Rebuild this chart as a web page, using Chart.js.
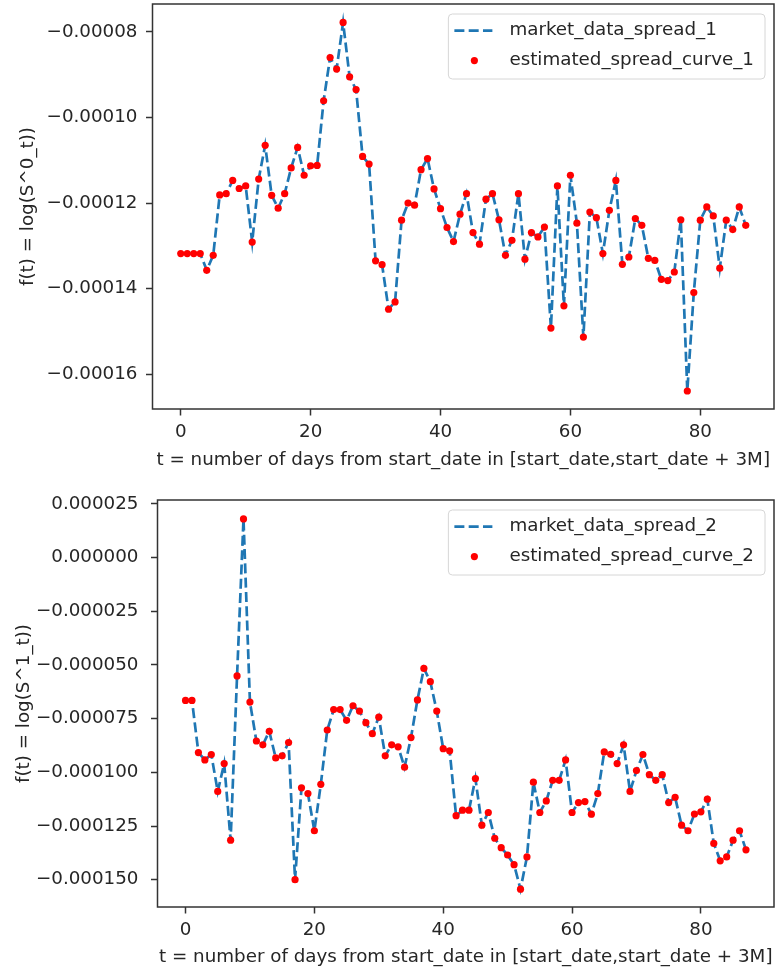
<!DOCTYPE html>
<html lang="en">
<head>
<meta charset="UTF-8">
<title>Spread curves</title>
<script src="https://cdn.jsdelivr.net/npm/chart.js"></script>
<style>
  body { margin: 0; background: #fff; }
  canvas { display: block; }
</style>
</head>
<body>
<canvas id="spread1" width="778" height="486"></canvas>
<canvas id="spread2" width="778" height="486"></canvas>
<script>
// days since start_date
const days = [0,1,2,3,4,5,6,7,8,9,10,11,12,13,14,15,16,17,18,19,20,21,22,23,24,25,26,27,28,29,
  30,31,32,33,34,35,36,37,38,39,40,41,42,43,44,45,46,47,48,49,50,51,52,53,54,55,56,57,58,59,
  60,61,62,63,64,65,66,67,68,69,70,71,72,73,74,75,76,77,78,79,80,81,82,83,84,85,86,87];

// f(t) = log(S^0_t)
const spread1 = [-131.8e-6,-131.8e-6,-131.8e-6,-131.8e-6,-135.7e-6,-132.2e-6,-118.1e-6,-117.8e-6,-114.7e-6,-116.6e-6,
  -116.0e-6,-129.1e-6,-114.4e-6,-106.5e-6,-118.2e-6,-121.2e-6,-117.8e-6,-111.8e-6,-107.0e-6,-113.5e-6,
  -111.3e-6,-111.2e-6,-96.1e-6,-86.0e-6,-88.7e-6,-77.8e-6,-90.5e-6,-93.5e-6,-109.1e-6,-110.9e-6,
  -133.5e-6,-134.4e-6,-144.8e-6,-143.1e-6,-124.0e-6,-120.0e-6,-120.5e-6,-112.2e-6,-109.6e-6,-116.7e-6,
  -121.3e-6,-125.7e-6,-129.0e-6,-122.6e-6,-117.8e-6,-126.9e-6,-129.6e-6,-119.1e-6,-117.8e-6,-123.9e-6,
  -132.2e-6,-128.7e-6,-117.8e-6,-133.1e-6,-126.9e-6,-127.9e-6,-125.6e-6,-149.2e-6,-116.0e-6,-144.0e-6,
  -113.5e-6,-124.7e-6,-151.3e-6,-122.1e-6,-123.4e-6,-131.8e-6,-121.7e-6,-114.7e-6,-134.3e-6,-132.6e-6,
  -123.6e-6,-125.2e-6,-132.9e-6,-133.4e-6,-137.8e-6,-138.1e-6,-136.1e-6,-123.9e-6,-163.9e-6,-140.9e-6,
  -124.0e-6,-120.9e-6,-123.0e-6,-135.2e-6,-124.0e-6,-126.2e-6,-120.9e-6,-125.2e-6];

// f(t) = log(S^1_t)
const spread2 = [-66.5e-6,-66.5e-6,-90.8e-6,-94.2e-6,-91.7e-6,-108.9e-6,-95.9e-6,-131.6e-6,-55.1e-6,18.0e-6,
  -67.3e-6,-85.4e-6,-87.2e-6,-80.9e-6,-93.3e-6,-92.3e-6,-86.1e-6,-150.0e-6,-107.2e-6,-109.9e-6,
  -127.2e-6,-105.6e-6,-80.3e-6,-70.8e-6,-70.8e-6,-75.8e-6,-69.0e-6,-71.5e-6,-76.9e-6,-82.0e-6,
  -74.3e-6,-92.3e-6,-87.2e-6,-88.1e-6,-97.6e-6,-83.8e-6,-66.3e-6,-51.6e-6,-57.8e-6,-71.5e-6,
  -89.0e-6,-90.0e-6,-120.2e-6,-117.6e-6,-117.6e-6,-102.9e-6,-124.6e-6,-118.7e-6,-130.7e-6,-135.1e-6,
  -138.5e-6,-143.0e-6,-154.4e-6,-139.4e-6,-104.6e-6,-118.7e-6,-113.3e-6,-103.7e-6,-103.7e-6,-94.2e-6,
  -118.7e-6,-114.1e-6,-113.6e-6,-119.5e-6,-109.9e-6,-90.5e-6,-91.6e-6,-95.9e-6,-87.2e-6,-108.9e-6,
  -99.2e-6,-91.7e-6,-101.1e-6,-103.7e-6,-101.1e-6,-114.1e-6,-111.6e-6,-124.6e-6,-127.2e-6,-119.4e-6,
  -118.4e-6,-112.5e-6,-133.1e-6,-141.2e-6,-139.4e-6,-131.6e-6,-127.2e-6,-136.1e-6];

const xTicks = [0, 20, 40, 60, 80];
const yTicks1 = [-0.00016, -0.00014, -0.00012, -0.00010, -0.00008];
const yTickLabels1 = ['\u22120.00016', '\u22120.00014', '\u22120.00012', '\u22120.00010', '\u22120.00008'];
const yTicks2 = [-0.000150, -0.000125, -0.000100, -0.000075, -0.000050, -0.000025, 0, 0.000025];
const yTickLabels2 = ['\u22120.000150', '\u22120.000125', '\u22120.000100', '\u22120.000075',
  '\u22120.000050', '\u22120.000025', '0.000000', '0.000025'];

const FONT_FAMILY = '"DejaVu Sans", sans-serif';
const FONT_SIZE = 18.3;
const TEXT = '#262626';
const AXIS = '#333';

// axes frame (matplotlib spines)
const frame = {
  id: 'frame',
  afterDatasetsDraw(chart) {
    const {ctx, chartArea: a} = chart;
    ctx.save();
    ctx.strokeStyle = AXIS;
    ctx.lineWidth = 1.5;
    ctx.strokeRect(a.left, a.top, a.right - a.left, a.bottom - a.top);
    ctx.restore();
  }
};

// legend box in the upper right of the axes
const legendBox = {
  id: 'legendBox',
  afterDraw(chart, args, opts) {
    const {ctx, chartArea: a} = chart;
    const sets = chart.data.datasets;
    ctx.save();
    ctx.font = FONT_SIZE + 'px ' + FONT_FAMILY;
    const textW = Math.max(...sets.map(d => ctx.measureText(d.label).width));
    const w = 61 + textW + 11, h = 65;
    const right = a.right - opts.gapRight;
    const left = right - w;
    const top = a.top + opts.gapTop;
    ctx.beginPath();
    ctx.roundRect(left, top, w, h, 4);
    ctx.fillStyle = 'rgba(255,255,255,0.8)';
    ctx.fill();
    ctx.strokeStyle = '#d6d6d6';
    ctx.lineWidth = 1;
    ctx.stroke();
    sets.forEach((ds, i) => {
      const y = top + 16.6 + i * 30;
      if (ds.showLine === false) {
        ctx.beginPath();
        ctx.arc(left + 26, y, ds.pointRadius, 0, Math.PI * 2);
        ctx.fillStyle = ds.pointBackgroundColor;
        ctx.fill();
      } else {
        ctx.beginPath();
        ctx.setLineDash(ds.borderDash);
        ctx.moveTo(left + 6, y);
        ctx.lineTo(left + 44, y);
        ctx.strokeStyle = ds.borderColor;
        ctx.lineWidth = ds.borderWidth;
        ctx.stroke();
        ctx.setLineDash([]);
      }
      ctx.fillStyle = TEXT;
      ctx.textBaseline = 'middle';
      ctx.fillText(ds.label, left + 61, y);
    });
    ctx.restore();
  }
};

function makeChart(id, values, names, cfg) {
  const pts = days.map((t, i) => ({x: t, y: values[i]}));
  const font = {family: FONT_FAMILY, size: FONT_SIZE};
  return new Chart(document.getElementById(id), {
    type: 'line',
    data: {
      datasets: [
        {
          label: names[0],
          data: pts,
          borderColor: '#1f77b4',
          borderWidth: 2.7,
          borderDash: [10, 4.3],
          pointRadius: 0,
          fill: false,
          tension: 0,
          order: 2
        },
        {
          label: names[1],
          data: pts,
          showLine: false,
          pointRadius: 3.6,
          pointBackgroundColor: '#ff0000',
          pointBorderWidth: 0,
          borderColor: '#ff0000',
          order: 1
        }
      ]
    },
    options: {
      responsive: false,
      animation: false,
      events: [],
      layout: {padding: {left: 0, top: cfg.padTop, right: cfg.padRight, bottom: 0}},
      plugins: {
        legend: {display: false},
        tooltip: {enabled: false},
        legendBox: {gapRight: 9, gapTop: 10}
      },
      scales: {
        x: {
          type: 'linear',
          min: -4.35,
          max: 91.35,
          afterBuildTicks: s => { s.ticks = xTicks.map(v => ({value: v})); },
          afterFit: s => { s.height = cfg.xHeight; s.paddingLeft = 0; s.paddingRight = 0; },
          border: {display: false},
          grid: {drawOnChartArea: false, drawTicks: true, tickLength: 6.5, tickWidth: 1.5, tickColor: AXIS},
          ticks: {font, color: TEXT, padding: 6, maxRotation: 0, callback: v => String(v)},
          title: {
            display: true,
            text: 't = number of days from start_date in [start_date,start_date + 3M]',
            font, color: TEXT,
            padding: {top: 0, bottom: cfg.xTitlePad}
          }
        },
        y: {
          min: cfg.yMin,
          max: cfg.yMax,
          afterBuildTicks: s => { s.ticks = cfg.yTicks.map(v => ({value: v})); },
          afterFit: s => { s.width = cfg.yWidth; s.paddingTop = 0; s.paddingBottom = 0; },
          border: {display: false},
          grid: {drawOnChartArea: false, drawTicks: true, tickLength: 6.5, tickWidth: 1.5, tickColor: AXIS},
          ticks: {font, color: TEXT, padding: cfg.yTickPad, callback: (v, i) => cfg.yLabels[i]},
          title: {
            display: true,
            text: cfg.yTitle,
            font, color: TEXT,
            padding: {top: cfg.yTitlePad, bottom: 0}
          }
        }
      }
    },
    plugins: [frame, legendBox]
  });
}

makeChart('spread1', spread1, ['market_data_spread_1', 'estimated_spread_curve_1'], {
  padTop: 2, padRight: 1, xHeight: 77, xTitlePad: 15,
  yWidth: 152.5, yMin: -168.1e-6, yMax: -73.5e-6,
  yTicks: yTicks1, yLabels: yTickLabels1, yTickPad: 8.5, yTitlePad: 17,
  yTitle: 'f(t) = log(S^0_t))'
});

makeChart('spread2', spread2, ['market_data_spread_2', 'estimated_spread_curve_2'], {
  padTop: 14, padRight: -3, xHeight: 65, xTitlePad: 4,
  yWidth: 157.5, yMin: -162.7e-6, yMax: 26.8e-6,
  yTicks: yTicks2, yLabels: yTickLabels2, yTickPad: 12.5, yTitlePad: 13,
  yTitle: 'f(t) = log(S^1_t))'
});
</script>
</body>
</html>
